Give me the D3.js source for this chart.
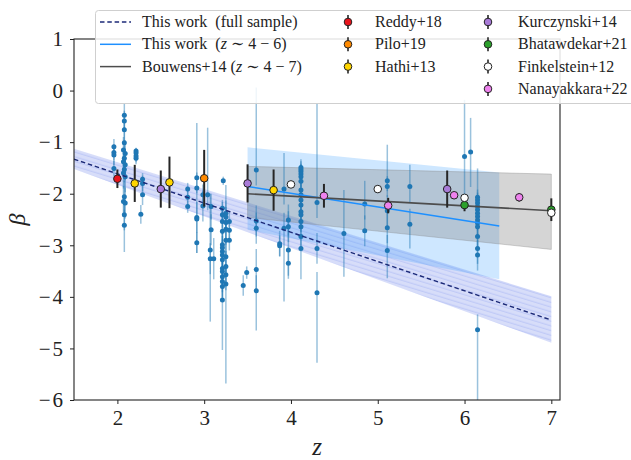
<!DOCTYPE html>
<html><head><meta charset="utf-8">
<script src="https://cdn.jsdelivr.net/npm/d3@7"></script>
<style>body{margin:0;background:#fff} svg{display:block}</style>
</head><body>
<svg id="c" width="631" height="460"></svg>
<script>
// ---------------- DATA ----------------
const xTicks = [2, 3, 4, 5, 6, 7];
const yTicks = [1, 0, -1, -2, -3, -4, -5, -6];

// This work: [z, beta, errLow, errHigh]
const thisWork = [
  [1.96,-1.09,0.15,0.15],[1.96,-1.20,0.15,0.15],[1.96,-1.25,0.2,0.2],[1.96,-1.51,0.15,0.15],
  [2.08,-0.48,0.3,0.22],[2.08,-0.59,0.2,0.2],[2.08,-0.76,0.25,0.25],[2.08,-1.01,0.3,0.3],
  [2.07,-1.15,0.25,0.25],[2.09,-1.22,0.25,0.25],[2.08,-1.31,0.25,0.25],[2.07,-1.38,0.2,0.2],
  [2.09,-1.44,0.3,0.3],[2.08,-1.53,0.25,0.25],[2.07,-1.60,0.3,0.3],[2.09,-1.67,0.3,0.3],
  [2.08,-2.06,0.3,0.3],[2.07,-2.15,0.3,0.3],[2.09,-2.18,0.3,0.3],[2.08,-2.41,0.3,0.3],[2.08,-2.61,0.52,0.3],
  [2.215,-1.17,0.12,0.05],[2.215,-1.21,0.12,0.1],[2.215,-1.27,0.12,0.12],[2.215,-1.31,0.12,0.12],
  [2.29,-1.72,0.12,0.12],[2.29,-1.80,0.15,0.15],[2.29,-2.02,0.2,0.2],[2.27,-2.40,0.18,0.18],
  [2.81,-1.91,0.12,0.12],[2.81,-2.07,0.15,0.15],[2.81,-2.25,0.12,0.12],
  [2.915,-1.69,0.3,1.06],[2.915,-1.89,0.3,0.3],[2.915,-2.46,0.3,0.3],[2.915,-2.49,0.66,0.3],[2.915,-2.95,0.2,0.2],
  [3.04,-2.02,0.3,1.3],[2.985,-2.24,0.3,0.3],[2.985,-2.02,0.2,0.2],
  [3.08,-2.25,0.25,0.25],[3.08,-2.70,0.3,0.3],[3.07,-3.09,1.39,1.09],[3.07,-3.26,0.3,0.3],[3.11,-3.26,0.4,0.4],
  [3.22,-1.75,0.08,0.08],
  [3.21,-2.28,0.2,0.16],[3.21,-2.41,0.25,0.25],[3.21,-2.54,0.25,0.25],[3.21,-2.73,0.3,0.3],
  [3.21,-2.99,0.3,0.3],[3.21,-3.05,0.3,0.3],[3.21,-3.12,0.3,0.3],[3.21,-3.19,0.3,0.3],
  [3.21,-3.28,0.3,0.3],[3.21,-3.45,0.3,0.3],[3.21,-3.51,0.3,0.3],[3.21,-3.61,0.3,0.3],
  [3.21,-3.70,0.3,0.3],[3.21,-3.80,0.3,0.3],[3.21,-4.06,0.97,0.3],
  [3.25,-2.38,0.25,0.25],[3.25,-2.45,0.3,0.62],[3.25,-2.56,0.3,0.3],[3.25,-2.69,0.3,0.3],
  [3.25,-2.90,0.3,0.3],[3.25,-3.22,0.3,0.3],[3.25,-3.41,0.3,0.3],[3.25,-3.57,0.3,0.3],[3.25,-3.75,1.93,0.3],
  [3.29,-2.54,0.2,0.2],[3.29,-2.71,0.2,0.2],[3.29,-2.90,0.2,0.2],
  [3.45,-3.78,0.2,0.2],[3.49,-3.53,0.12,0.12],
  [3.60,-1.54,0.3,1.6],[3.60,-2.53,0.3,0.3],[3.60,-2.67,0.3,0.3],[3.60,-3.47,0.4,0.4],[3.60,-3.88,0.77,0.3],
  [3.87,-2.97,0.25,0.25],[3.87,-3.01,0.2,0.2],[3.92,-1.91,0.3,0.7],[3.92,-2.67,1.42,0.3],
  [3.97,-2.51,0.3,0.3],[3.97,-2.64,0.3,0.3],[3.97,-3.09,0.5,0.5],[3.97,-3.35,0.3,0.3],
  [4.115,-1.49,0.2,0.05],[4.115,-1.53,0.2,0.2],[4.115,-1.57,0.2,0.2],[4.115,-1.62,0.2,0.2],
  [4.115,-1.67,0.2,0.2],[4.115,-1.76,0.2,0.2],[4.115,-1.93,0.2,0.2],[4.115,-2.02,0.2,0.2],
  [4.115,-2.12,0.2,0.2],[4.115,-2.22,0.2,0.2],[4.115,-2.35,0.2,0.2],[4.115,-2.41,0.2,0.2],
  [4.115,-2.54,0.2,0.2],[4.115,-2.64,0.2,0.2],[4.115,-2.83,0.2,0.2],[4.115,-3.06,0.6,0.2],
  [4.30,-2.17,0.3,1.93],[4.30,-3.06,0.3,0.3],[4.30,-3.92,1.36,0.4],
  [4.61,-2.77,0.84,0.84],
  [4.85,-2.20,0.3,0.45],[4.85,-2.72,0.3,0.3],
  [5.11,-1.75,0.2,0.7],[5.11,-1.86,0.2,0.2],[5.11,-2.33,0.3,0.3],[5.11,-2.66,0.3,0.3],[5.11,-3.10,0.54,0.3],
  [5.37,-1.86,0.3,0.42],[5.37,-2.59,0.47,0.3],
  [6.00,-1.28,1.0,1.1],
  [6.07,-1.19,0.68,0.66],
  [6.15,-2.07,0.2,0.56],[6.15,-2.12,0.2,0.2],[6.15,-2.18,0.2,0.2],[6.15,-2.25,0.2,0.2],
  [6.15,-2.31,0.2,0.2],[6.15,-2.38,0.2,0.2],[6.15,-2.44,0.2,0.2],[6.15,-2.51,0.2,0.2],
  [6.15,-2.57,0.2,0.2],[6.15,-2.64,0.2,0.2],[6.15,-2.83,0.2,0.2],[6.15,-3.06,0.3,0.3],
  [6.15,-3.19,0.3,0.3],[6.15,-4.64,1.6,0.3]
];

// Fits (z, beta)
const fullSampleLine = [[1.5,-1.33],[7.0,-4.45]];
const fullSampleUpper = [[1.5,-1.13],[7.0,-3.99]];
const fullSampleLower = [[1.5,-1.52],[7.0,-4.89]];
const z46Line  = [[3.5,-1.86],[6.4,-2.625]];
const z46Upper = [[3.5,-1.10],[6.4,-1.59]];
const z46Lower = [[3.5,-2.70],[6.4,-3.66]];
const bouwensLine  = [[3.5,-2.00],[7.0,-2.33]];
const bouwensUpper = [[3.5,-1.47],[7.0,-1.62]];
const bouwensLower = [[3.5,-2.46],[7.0,-3.08]];

// Literature: [z, beta, err]
const reddy18 = [[2.0,-1.71,0.18]];
const pilo19 = [[3.0,-1.70,0.55]];
const hathi13 = [[2.2,-1.80,0.36],[2.6,-1.78,0.5],[3.8,-1.93,0.4]];
const kurczynski14 = [[2.5,-1.91,0.36],[3.5,-1.80,0.37],[5.8,-1.91,0.36]];
const bhatawdekar21 = [[6.0,-2.22,0.12],[7.0,-2.31,0.22]];
const finkelstein12 = [[4.0,-1.82,0],[5.0,-1.91,0],[6.0,-2.08,0],[7.0,-2.37,0]];
const nanayakkara22 = [[4.38,-2.04,0.23],[5.12,-2.23,0.15],[5.88,-2.03,0.05],[6.63,-2.07,0.08]];

const literature = [
  {name:"Reddy+18", color:"#e8141c", data:reddy18},
  {name:"Pilo+19", color:"#ff8a00", data:pilo19},
  {name:"Hathi+13", color:"#ffd500", data:hathi13},
  {name:"Kurczynski+14", color:"#a97bd8", data:kurczynski14},
  {name:"Bhatawdekar+21", color:"#2ca02c", data:bhatawdekar21},
  {name:"Finkelstein+12", color:"#ffffff", data:finkelstein12},
  {name:"Nanayakkara+22", color:"#ee82ee", data:nanayakkara22}
];

// ---------------- DRAW ----------------
const m = {left:74, right:560, top:39, bottom:400};
const x = d3.scaleLinear().domain([1.5, 7.1]).range([m.left, m.right]);
const y = d3.scaleLinear().domain([-6, 1]).range([m.bottom, m.top]);
const svg = d3.select("#c");
const FONT = "'Liberation Serif', 'DejaVu Serif', serif";

const defs = svg.append("defs");
defs.append("clipPath").attr("id","plotclip").append("rect")
  .attr("x", m.left).attr("y", m.top).attr("width", m.right-m.left).attr("height", m.bottom-m.top);
const pat = defs.append("pattern").attr("id","hatch").attr("patternUnits","userSpaceOnUse")
  .attr("width",8).attr("height",4.5).attr("patternTransform","rotate(17)");
pat.append("line").attr("x1",0).attr("y1",2).attr("x2",8).attr("y2",2)
  .attr("stroke","#6a80ea").attr("stroke-width",0.7).attr("stroke-opacity",0.4);

const g = svg.append("g").attr("clip-path","url(#plotclip)");

const area = (up, lo) => {
  const pts = up.map(d=>[x(d[0]),y(d[1])]).concat(lo.slice().reverse().map(d=>[x(d[0]),y(d[1])]));
  return "M" + pts.map(p=>p.join(",")).join("L") + "Z";
};
const line = d3.line().x(d=>x(d[0])).y(d=>y(d[1]));

// bands
g.append("path").attr("d", area(fullSampleUpper, fullSampleLower))
  .attr("fill","#5670e8").attr("fill-opacity",0.24);
g.append("path").attr("d", area(fullSampleUpper, fullSampleLower))
  .attr("fill","url(#hatch)");
g.append("path").attr("d", area(z46Upper, z46Lower))
  .attr("fill","#1e90ff").attr("fill-opacity",0.22);
g.append("path").attr("d", area(bouwensUpper, bouwensLower))
  .attr("fill","#808080").attr("fill-opacity",0.33)
  .attr("stroke","#808080").attr("stroke-opacity",0.35).attr("stroke-width",1);

// this work data
g.selectAll(".werr").data(thisWork).join("line")
  .attr("x1",d=>x(d[0])).attr("x2",d=>x(d[0]))
  .attr("y1",d=>y(d[1]+d[3])).attr("y2",d=>y(d[1]-d[2]))
  .attr("stroke","#1f77b4").attr("stroke-opacity",0.45).attr("stroke-width",1.5);
g.selectAll(".wpt").data(thisWork).join("circle")
  .attr("cx",d=>x(d[0])).attr("cy",d=>y(d[1])).attr("r",2.5)
  .attr("fill","#1f77b4");

// fit lines
g.append("path").attr("d", line(fullSampleLine)).attr("fill","none")
  .attr("stroke","#1c2a78").attr("stroke-width",1.4).attr("stroke-dasharray","4.5,2.8");
g.append("path").attr("d", line(z46Line)).attr("fill","none")
  .attr("stroke","#1e90ff").attr("stroke-width",1.5);
g.append("path").attr("d", line(bouwensLine)).attr("fill","none")
  .attr("stroke","#4d4d4d").attr("stroke-width",1.6);

// literature
literature.forEach(s => {
  g.selectAll(null).data(s.data.filter(d=>d[2]>0)).join("line")
    .attr("x1",d=>x(d[0])).attr("x2",d=>x(d[0]))
    .attr("y1",d=>y(d[1]+d[2])).attr("y2",d=>y(d[1]-d[2]))
    .attr("stroke","#262626").attr("stroke-width",2);
  g.selectAll(null).data(s.data).join("circle")
    .attr("cx",d=>x(d[0])).attr("cy",d=>y(d[1])).attr("r",3.8)
    .attr("fill",s.color).attr("stroke","#222").attr("stroke-width",1);
});

// frame
svg.append("rect").attr("x",m.left).attr("y",m.top).attr("width",m.right-m.left).attr("height",m.bottom-m.top)
  .attr("fill","none").attr("stroke","#222").attr("stroke-width",1.1);

// axes
const fmt = d => d < 0 ? "\u2212" + Math.abs(d) : String(d);
const xAx = svg.append("g").attr("transform",`translate(0,${m.bottom})`)
  .call(d3.axisBottom(x).tickValues(xTicks).tickSize(4).tickPadding(6).tickFormat(fmt));
const yAx = svg.append("g").attr("transform",`translate(${m.left},0)`)
  .call(d3.axisLeft(y).tickValues(yTicks).tickSize(4).tickPadding(5).tickFormat(fmt));
[xAx,yAx].forEach(a=>{
  a.select(".domain").remove();
  a.selectAll(".tick line").attr("stroke","#222").attr("stroke-width",1);
  a.selectAll(".tick text").attr("fill","#222").style("font-family",FONT).style("font-size","21px");
});
yAx.selectAll(".tick text").style("letter-spacing","2px");

svg.append("text").attr("x",(m.left+m.right)/2).attr("y",455).attr("text-anchor","middle")
  .style("font-family",FONT).style("font-size","25px").style("font-style","italic").attr("fill","#222").text("z");
svg.append("text").attr("transform",`translate(25,${(m.top+m.bottom)/2}) rotate(-90)`)
  .attr("text-anchor","middle").style("font-family",FONT).style("font-size","24px").style("font-style","italic")
  .attr("fill","#222").text("β");

// legend
const lg = svg.append("g");
lg.append("rect").attr("x",95.5).attr("y",10.5).attr("width",560).attr("height",93).attr("rx",3)
  .attr("fill","#fff").attr("fill-opacity",0.85).attr("stroke","#cfcfcf");
const rowY = i => 22 + i*22.3;
const lineItems = [
  {stroke:"#1c2a78", dash:"4.5,2.8", parts:[["This work  (full sample)",false]]},
  {stroke:"#1e90ff", dash:null, parts:[["This work  (",false],["z",true],[" \u223C 4 \u2212 6)",false]]},
  {stroke:"#4d4d4d", dash:null, parts:[["Bouwens+14 (",false],["z",true],[" \u223C 4 \u2212 7)",false]]}
];
lineItems.forEach((it,i)=>{
  lg.append("line").attr("x1",100).attr("x2",131).attr("y1",rowY(i)).attr("y2",rowY(i))
    .attr("stroke",it.stroke).attr("stroke-width",1.5).attr("stroke-dasharray",it.dash);
  const t = lg.append("text").attr("x",142).attr("y",rowY(i)+5).style("font-family",FONT)
    .style("font-size","16px").attr("fill","#222").attr("xml:space","preserve").style("white-space","pre");
  it.parts.forEach(p=>t.append("tspan").style("font-style",p[1]?"italic":"normal").text(p[0]));
});
literature.forEach((s,i)=>{
  const col = i < 3 ? 0 : 1;
  const row = i < 3 ? i : i-3;
  const mx = col===0 ? 348 : 488, tx = col===0 ? 375 : 518;
  const cy = rowY(row);
  lg.append("line").attr("x1",mx).attr("x2",mx).attr("y1",cy-7).attr("y2",cy+7)
    .attr("stroke","#262626").attr("stroke-width",1.6);
  lg.append("circle").attr("cx",mx).attr("cy",cy).attr("r",3.8)
    .attr("fill",s.color).attr("stroke","#222").attr("stroke-width",1);
  lg.append("text").attr("x",tx).attr("y",cy+5).style("font-family",FONT)
    .style("font-size","16px").attr("fill","#222").text(s.name);
});
</script>
</body></html>
